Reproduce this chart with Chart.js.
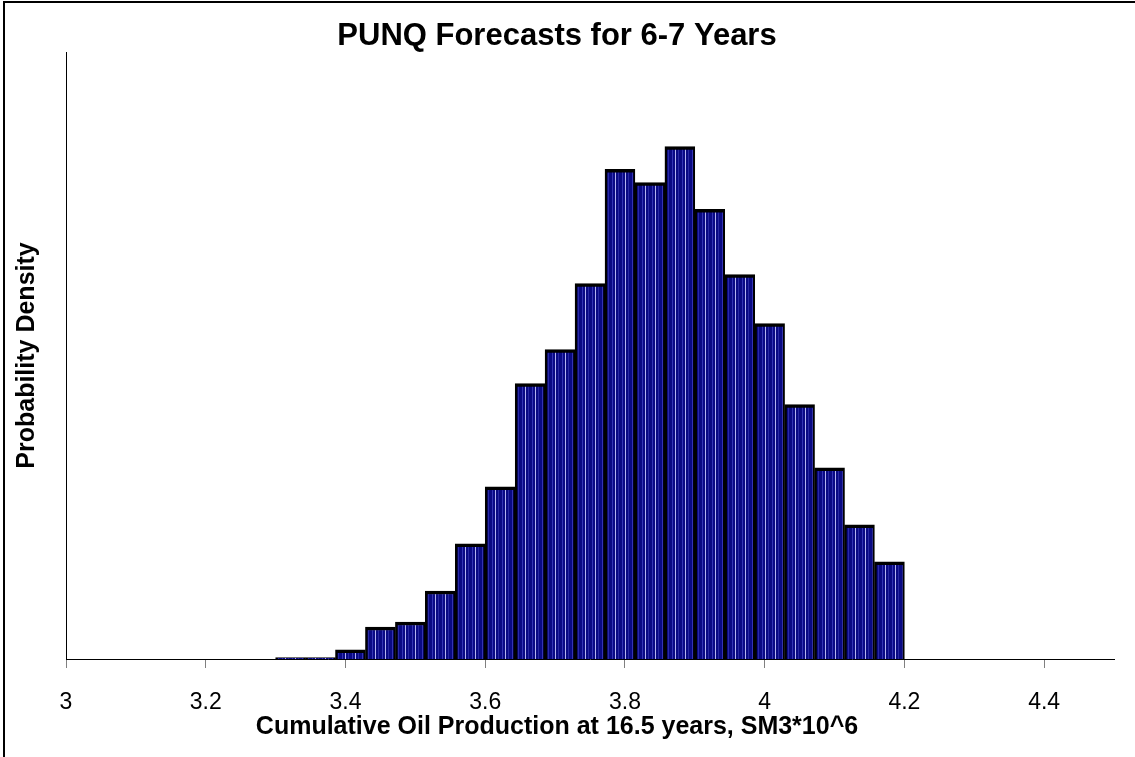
<!DOCTYPE html>
<html>
<head>
<meta charset="utf-8">
<title>PUNQ Forecasts for 6-7 Years</title>
<script src="https://cdn.jsdelivr.net/npm/chart.js@4.4.1/dist/chart.umd.min.js"></script>
<style>
  html, body { margin: 0; padding: 0; background: #ffffff; }
  #wrap { position: relative; width: 1135px; height: 757px; }
</style>
</head>
<body>
<div id="wrap"><canvas id="js-histogram"></canvas></div>
<script>
"use strict";

// histogram bins (centres of the 21 bins between 3.3 and 4.2)
const binCenters = [3.3214, 3.3643, 3.4071, 3.4500, 3.4929, 3.5357, 3.5786, 3.6214, 3.6643, 3.7071, 3.7500,
  3.7929, 3.8357, 3.8786, 3.9214, 3.9643, 4.0071, 4.0500, 4.0929, 4.1357, 4.1786];
const densities = [0.007, 0.007, 0.045, 0.158, 0.183, 0.336, 0.569, 0.851, 1.361, 1.529, 1.856,
  2.420, 2.355, 2.533, 2.222, 1.900, 1.658, 1.257, 0.945, 0.663, 0.480];
const xTickValues = [3, 3.2, 3.4, 3.6, 3.8, 4, 4.2, 4.4];
const xTickLabels = ["3", "3.2", "3.4", "3.6", "3.8", "4", "4.2", "4.4"];

const FONT = "'Liberation Sans', Arial, Helvetica, sans-serif";

{
  // striped navy fill like the old excel bars
  function makeStripes() {
    const c = document.createElement("canvas");
    c.width = 10;
    c.height = 4;
    const g = c.getContext("2d");
    g.fillStyle = "#0a0a84";
    g.fillRect(0, 0, 10, 4);
    g.fillStyle = "#3434b4";
    g.fillRect(2, 0, 1, 4);
    g.fillStyle = "#b4b4f0";
    g.fillRect(5, 0, 1, 4);
    g.fillStyle = "#2a2aa6";
    g.fillRect(8, 0, 1, 4);
    return g.createPattern(c, "repeat");
  }

  // white page + the left/top frame lines of the original picture
  const framePlugin = {
    id: "frame",
    beforeDraw(chart) {
      const ctx = chart.ctx;
      ctx.save();
      ctx.fillStyle = "#ffffff";
      ctx.fillRect(0, 0, chart.width, chart.height);
      ctx.strokeStyle = "#000000";
      ctx.lineWidth = 2;
      ctx.beginPath();
      ctx.moveTo(4, chart.height);
      ctx.lineTo(4, 2);
      ctx.lineTo(chart.width, 2);
      ctx.stroke();
      ctx.restore();
    },
  };

  const ctx = document.getElementById("js-histogram").getContext("2d");
  const histogram = new Chart(ctx, {
    type: "bar",
    data: {
      datasets: [
        {
          data: binCenters.map((x, i) => ({ x: x, y: densities[i] })),
          backgroundColor: makeStripes(),
          borderColor: "#000000",
          borderWidth: { top: 3.5, left: 2.5, right: 2, bottom: 0 },
          borderSkipped: "start",
          barPercentage: 1,
          categoryPercentage: 1,
        },
      ],
    },
    options: {
      responsive: true,
      maintainAspectRatio: false,
      animation: false,
      layout: {
        padding: { left: 0, right: 21, top: 0, bottom: 0 },
      },
      scales: {
        x: {
          type: "linear",
          min: 3,
          max: 4.5,
          offset: false,
          afterBuildTicks: (scale) => {
            scale.ticks = xTickValues.map((v) => ({ value: v }));
          },
          afterFit: (scale) => {
            scale.height = 56;
          },
          ticks: {
            autoSkip: false,
            maxRotation: 0,
            padding: 21,
            color: "#000000",
            font: { family: FONT, size: 23 },
            callback: function (value, index) {
              return xTickLabels[index];
            },
          },
          grid: {
            offset: false,
            drawOnChartArea: false,
            drawTicks: true,
            tickLength: 9,
            color: "#808080",
          },
          border: { display: true, color: "#000000", width: 1 },
        },
        y: {
          min: 0,
          max: 3,
          afterFit: (scale) => {
            scale.width = 66;
          },
          ticks: { display: false },
          grid: { display: false, drawTicks: false },
          border: { display: true, color: "#000000", width: 1 },
          title: {
            display: true,
            text: "Probability Density",
            color: "#000000",
            font: { family: FONT, size: 25, weight: "bold", lineHeight: 1.2 },
            padding: { top: 12, bottom: 0 },
          },
        },
      },
      plugins: {
        legend: { display: false },
        tooltip: { enabled: false },
        title: {
          display: true,
          text: "PUNQ Forecasts for 6-7 Years",
          color: "#000000",
          font: { family: FONT, size: 31, weight: "bold", lineHeight: 1 },
          padding: { top: 21, bottom: 0 },
        },
        subtitle: {
          display: true,
          position: "bottom",
          text: "Cumulative Oil Production at 16.5 years, SM3*10^6",
          color: "#000000",
          font: { family: FONT, size: 25, weight: "bold", lineHeight: 1 },
          padding: { top: 0, bottom: 17 },
        },
      },
    },
    plugins: [framePlugin],
  });
}
</script>
</body>
</html>
